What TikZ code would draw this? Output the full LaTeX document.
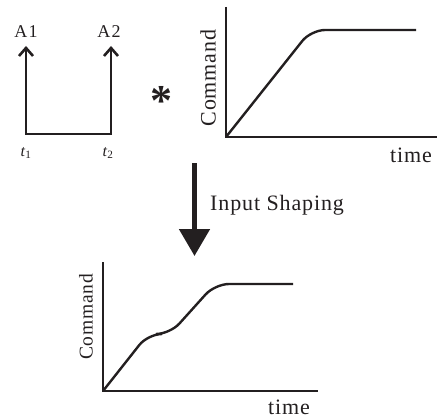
\documentclass[tikz,border=0pt]{standalone}
\usepackage{fontspec}
\setmainfont{Liberation Serif}
\newfontfamily\spaced[LetterSpace=4]{Liberation Serif}
\usetikzlibrary{arrows.meta}
\definecolor{ink}{HTML}{231F20}
\begin{document}
\begin{tikzpicture}[x=1pt,y=-1pt,
  axis/.style={draw=ink,line width=2.4pt},
  curve/.style={draw=ink,line width=2.4pt,rounded corners=14pt},
  impulse/.style={draw=ink,line width=2.6pt,-{Straight Barb[length=8pt,width=14pt]}},
  lbl/.style={text=ink,inner sep=0pt,font=\spaced\fontsize{22}{24}\selectfont},
  alabel/.style={text=ink,inner sep=0pt,font=\fontsize{18}{20}\selectfont},
  tlabel/.style={text=ink,inner sep=0pt,font=\fontsize{16}{18}\selectfont}]
\useasboundingbox (0,0) rectangle (437,420);
% impulse train
\coordinate (b1) at (26,134);
\coordinate (b2) at (111,134);
\coordinate (a1) at (26,46);
\coordinate (a2) at (111,46);
\draw[impulse] (b1) -- (a1);
\draw[impulse] (b2) -- (a2);
\draw[draw=ink,line width=2.6pt,line cap=rect] (b1) -- (b2);
\node[alabel] (A1) at (26,32) {A\kern1.5pt1};
\node[alabel] (A2) at (109,32) {A\kern1.5pt2};
\node[tlabel] (t1) at (26,153) {\textit{t}\textsubscript{1}};
\node[tlabel] (t2) at (108,153) {\textit{t}\textsubscript{2}};
% convolution star
\node[text=ink,inner sep=0pt,font=\fontsize{44}{44}\selectfont\bfseries] (star) at (161,101) {*};
% top plot
\coordinate (o1) at (226,137);
\coordinate (y1) at (226,7);
\coordinate (x1) at (437,137);
\draw[axis] (y1) -- (o1) -- (x1);
\draw[curve] (o1) -- (311,30) -- (416,30);
\node[lbl,rotate=90] (cmd1) at (208,78) {Command};
\node[lbl] (time1) at (411,155) {time};
% arrow
\coordinate (s0) at (194.5,163);
\coordinate (s1) at (194.5,256);
\draw[draw=ink,line width=5pt,-{Triangle[length=27pt,width=30pt]}] (s0) -- (s1);
\node[lbl,anchor=west] (shape) at (210,205) {Input Shaping};
% bottom plot
\coordinate (o2) at (103,391);
\coordinate (y2) at (103,262);
\coordinate (x2) at (318,391);
\draw[axis] (y2) -- (o2) -- (x2);
\draw[curve] (o2) -- (148,334) -- (170,334) -- (215,284) -- (293,284);
\node[lbl,rotate=90,font=\spaced\fontsize{19.5}{21}\selectfont] (cmd2) at (86,317) {Command};
\node[lbl] (time2) at (289,407) {time};
\end{tikzpicture}
\end{document}
